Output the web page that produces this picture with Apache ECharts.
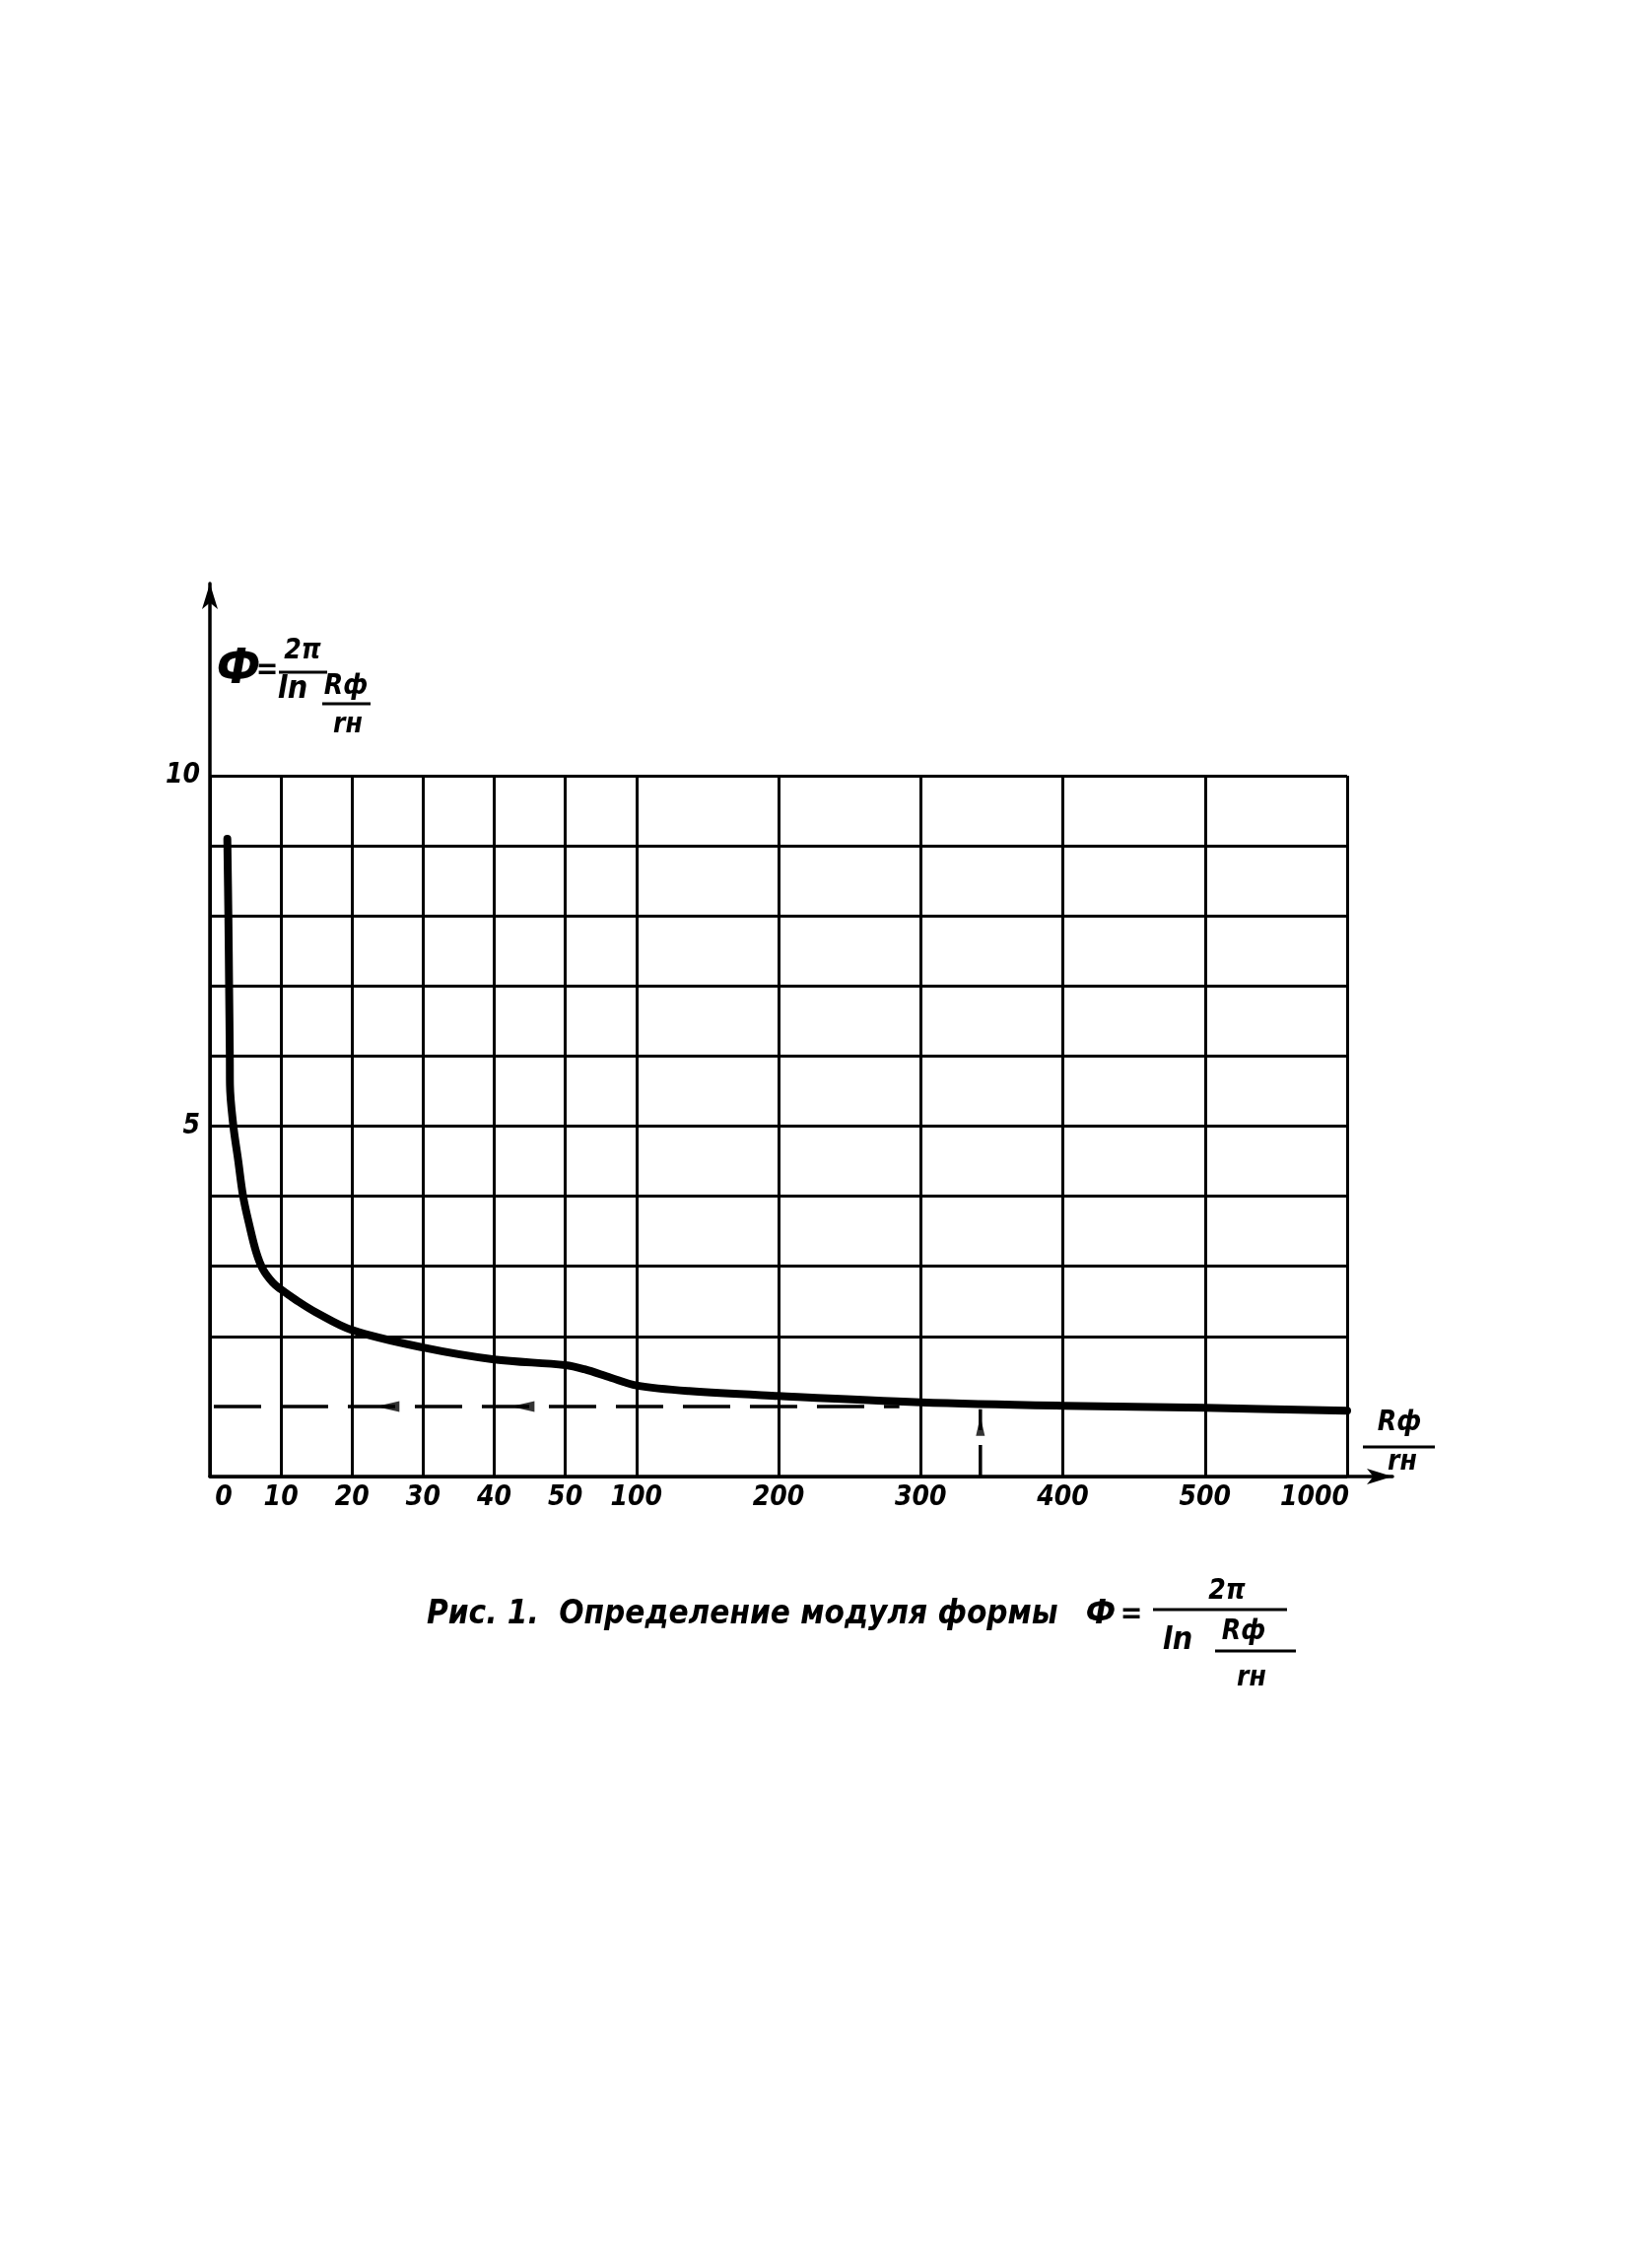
<!DOCTYPE html>
<html>
<head>
<meta charset="utf-8">
<script src="https://cdn.jsdelivr.net/npm/echarts@6/dist/echarts.min.js"></script>
<style>
  html, body { margin: 0; padding: 0; background: #ffffff; }
  #chart { width: 1652px; height: 2301px; }
</style>
</head>
<body>
<div id="chart"></div>
<script>
// ---- data ----
// x-axis tick labels (Rф / rн) and their step index on the non-uniform drawn scale
const tickValues = [0, 10, 20, 30, 40, 50, 100, 200, 300, 400, 500, 1000];
const tickSteps  = [0, 1, 2, 3, 4, 5, 6, 8, 10, 12, 14, 16];
// horizontal grid rows drawn in the reference (no row at 1 — the dashed line sits there)
const yGridValues = [0, 2, 3, 4, 5, 6, 7, 8, 9, 10];
const yLabelValues = [5, 10];

// main curve  Ф = 2π / ln(Rф/rн)
const curveX = [2.45, 2.6, 2.7, 2.8, 2.82, 3.29, 3.98, 4.67, 5.59, 6.52, 7.45, 8.83, 10, 12.1, 14.8, 20, 30, 40, 50, 63.5, 82, 100, 137, 200, 300, 400, 500, 1000];
const curveY = [9.1, 8.0, 7.0, 6.0, 5.59, 5.01, 4.51, 4.0, 3.57, 3.2, 2.96, 2.77, 2.67, 2.52, 2.35, 2.09, 1.84, 1.67, 1.59, 1.53, 1.41, 1.30, 1.22, 1.15, 1.06, 1.01, 0.98, 0.94];

// dashed reading line
const readX = [0.55, 285];
const readY = [1.0, 1.0];
const readArrowX = [25, 44];
const markerX = [342, 342];
const markerY = [0, 0.96];
const markerArrowY = [0.72];

// map a real Rф/rн value to the step position of the drawn axis
function toStep(v) {
  for (let i = 0; i < tickValues.length - 1; i++) {
    const a = tickValues[i], b = tickValues[i + 1];
    if (v <= b) return tickSteps[i] + (v - a) / (b - a) * (tickSteps[i + 1] - tickSteps[i]);
  }
  return tickSteps[tickSteps.length - 1];
}

const FONT = "'DejaVu Sans Condensed', 'DejaVu Sans', sans-serif";
const chart = echarts.init(document.getElementById('chart'), null, { renderer: 'canvas' });

function txt(text, x, y, size, align) {
  return {
    type: 'text', x: x, y: y, z: 10,
    style: {
      text: text, fill: '#000', font: 'italic bold ' + size + 'px ' + FONT,
      textAlign: align || 'center', textVerticalAlign: 'middle'
    }
  };
}
function bar(x1, y1, x2, lw) {
  return { type: 'line', z: 10, shape: { x1: x1, y1: y1, x2: x2, y2: y1 }, style: { stroke: '#000', lineWidth: lw || 3 } };
}

const labelFont = { color: '#000', fontStyle: 'italic', fontWeight: 'bold', fontFamily: FONT };

const option = {
  backgroundColor: '#ffffff',
  animation: false,
  grid: [
    { left: 213, top: 787, width: 1154, height: 711, containLabel: false },
    { left: 213, top: 592, width: 1200, height: 906, containLabel: false }
  ],
  xAxis: [
    {
      type: 'value', gridIndex: 0, min: 0, max: 16,
      axisLine: { show: false },
      axisTick: { show: false, customValues: tickSteps },
      axisLabel: Object.assign({
        customValues: tickSteps,
        margin: 8,
        fontSize: 28,
        formatter: function (v) {
          const i = tickSteps.indexOf(v);
          if (i < 0) return '';
          if (i === 0) return '{s|' + tickValues[i] + '}';
          if (i === tickSteps.length - 1) return '{e|' + tickValues[i] + '}';
          return String(tickValues[i]);
        },
        rich: {
          s: Object.assign({ padding: [0, 0, 0, 28], fontSize: 28 }, labelFont),
          e: Object.assign({ padding: [0, 66, 0, 0], fontSize: 28 }, labelFont)
        }
      }, labelFont),
      splitLine: { show: true, lineStyle: { color: '#000', width: 3 } }
    },
    {
      type: 'value', gridIndex: 1, min: 0, max: 1,
      axisLine: { show: true, symbol: ['none', 'arrow'], symbolSize: [12, 26], lineStyle: { color: '#000', width: 3.5 } },
      axisTick: { show: false }, axisLabel: { show: false }, splitLine: { show: false }
    }
  ],
  yAxis: [
    {
      type: 'value', gridIndex: 0, min: 0, max: 10, interval: 1,
      axisLine: { show: false },
      axisTick: { show: false, customValues: yGridValues },
      axisLabel: Object.assign({ customValues: yLabelValues, margin: 10, fontSize: 28 }, labelFont),
      splitLine: { show: true, lineStyle: { color: '#000', width: 3 } }
    },
    {
      type: 'value', gridIndex: 1, min: 0, max: 1,
      axisLine: { show: true, symbol: ['none', 'arrow'], symbolSize: [12, 26], lineStyle: { color: '#000', width: 3.5 } },
      axisTick: { show: false }, axisLabel: { show: false }, splitLine: { show: false }
    }
  ],
  series: [
    {
      type: 'line', xAxisIndex: 0, yAxisIndex: 0,
      data: curveX.map((x, i) => [toStep(x), curveY[i]]),
      showSymbol: false, smooth: 0.35,
      lineStyle: { color: '#000', width: 8, cap: 'round', join: 'round' }, z: 5
    },
    {
      type: 'line', xAxisIndex: 0, yAxisIndex: 0,
      data: readX.map((x, i) => [toStep(x), readY[i]]),
      showSymbol: false,
      lineStyle: { color: '#000', width: 3.5, type: [48, 20] }, z: 4
    },
    {
      type: 'scatter', xAxisIndex: 0, yAxisIndex: 0,
      data: readArrowX.map(x => [toStep(x), readY[0]]),
      symbol: 'triangle', symbolSize: [11, 24], symbolRotate: 90,
      itemStyle: { color: '#000' }, z: 6
    },
    {
      type: 'line', xAxisIndex: 0, yAxisIndex: 0,
      data: markerX.map((x, i) => [toStep(x), markerY[i]]),
      showSymbol: false,
      lineStyle: { color: '#000', width: 3.5, type: [32, 15] }, z: 4
    },
    {
      type: 'scatter', xAxisIndex: 0, yAxisIndex: 0,
      data: markerArrowY.map(y => [toStep(markerX[0]), y]),
      symbol: 'triangle', symbolSize: [9, 20],
      itemStyle: { color: '#000' }, z: 6
    }
  ],
  graphic: [
    // y-axis title  Ф = 2π / ln(Rф/rн)
    txt('Ф', 242, 680, 50),
    txt('=', 271, 680, 30),
    txt('2π', 307, 661, 28),
    bar(283, 682, 332, 3),
    txt('ln', 297, 700, 32),
    txt('Rф', 351, 697, 28),
    bar(327, 714, 376, 3),
    txt('rн', 353, 736, 28),
    // x-axis name Rф / rн
    txt('Rф', 1420, 1444, 28),
    bar(1383, 1468, 1456, 3),
    txt('rн', 1423, 1484, 28),
    // caption
    txt('Рис. 1.  Определение модуля формы', 433, 1638, 33, 'left'),
    txt('Ф', 1117, 1638, 34),
    txt('=', 1148, 1638, 30),
    txt('2π', 1245, 1615, 28),
    bar(1170, 1633, 1306, 3),
    txt('ln', 1195, 1665, 32),
    txt('Rф', 1262, 1656, 28),
    bar(1233, 1675, 1315, 3),
    txt('rн', 1270, 1703, 28)
  ]
};
chart.setOption(option);
</script>
</body>
</html>
